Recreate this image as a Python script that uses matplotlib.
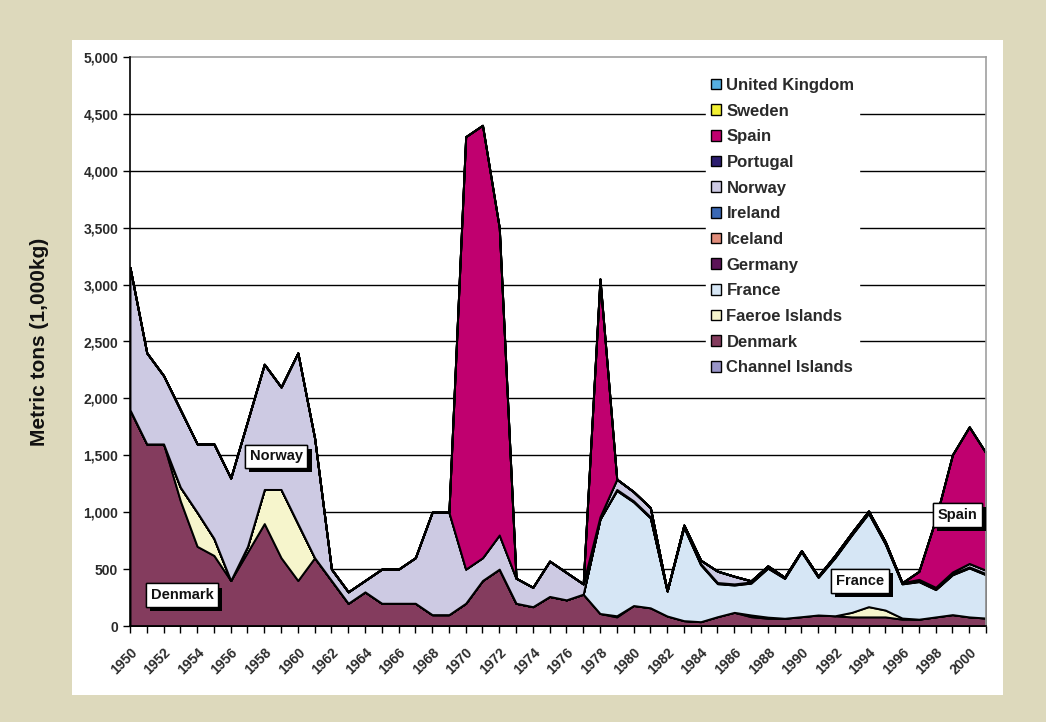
import matplotlib
matplotlib.use('Agg')
import matplotlib.pyplot as plt
import matplotlib.patheffects as pe
from matplotlib.patches import Patch, Rectangle
from matplotlib.ticker import FuncFormatter

plt.rcParams['font.family'] = ['Liberation Sans', 'DejaVu Sans']
plt.rcParams['font.weight'] = 'bold'

# Años del eje x
anios = list(range(1950, 2002))

# Capturas por país (miles de kg), 1950-2001
channel_islands = [0, 0, 0, 0, 0, 0, 0, 0, 0, 0,
                   0, 0, 0, 0, 0, 0, 0, 0, 0, 0,
                   0, 0, 0, 0, 0, 0, 0, 0, 0, 0,
                   0, 0, 0, 0, 0, 0, 0, 0, 0, 0,
                   0, 0, 0, 0, 0, 0, 0, 0, 0, 0,
                   0, 0]
denmark = [1900, 1600, 1600, 1100, 700, 620, 400, 650, 900, 600,
           400, 600, 400, 200, 300, 200, 200, 200, 100, 100,
           200, 400, 500, 200, 170, 260, 230, 280, 110, 80,
           180, 160, 88, 47, 38, 82, 120, 82, 68, 68,
           82, 97, 90, 80, 80, 80, 60, 60, 80, 100,
           80, 70]
faeroe = [0, 0, 0, 120, 300, 150, 0, 50, 300, 600,
          500, 0, 0, 0, 0, 0, 0, 0, 0, 0,
          0, 0, 0, 0, 0, 0, 0, 0, 0, 10,
          0, 0, 0, 0, 0, 0, 0, 15, 10, 0,
          0, 0, 0, 40, 90, 60, 10, 0, 0, 0,
          0, 0]
france = [0, 0, 0, 0, 0, 0, 0, 0, 0, 0,
          0, 0, 0, 0, 0, 0, 0, 0, 0, 0,
          0, 0, 0, 0, 0, 0, 0, 0, 830, 1100,
          910, 790, 220, 820, 500, 290, 240, 280, 430, 350,
          570, 330, 510, 680, 820, 580, 300, 330, 240, 350,
          430, 380]
germany = [0, 0, 0, 0, 0, 0, 0, 0, 0, 0,
           0, 0, 0, 0, 0, 0, 0, 0, 0, 0,
           0, 0, 0, 0, 0, 0, 0, 0, 0, 5,
           5, 5, 0, 5, 5, 5, 5, 5, 5, 5,
           5, 5, 5, 5, 5, 5, 5, 5, 5, 5,
           5, 5]
iceland = [0, 0, 0, 0, 0, 0, 0, 0, 0, 0,
           0, 0, 0, 0, 0, 0, 0, 0, 0, 0,
           0, 0, 0, 0, 0, 0, 0, 0, 0, 0,
           0, 0, 0, 0, 0, 0, 0, 0, 0, 0,
           0, 0, 0, 0, 0, 0, 0, 0, 0, 0,
           0, 0]
ireland = [0, 0, 0, 0, 0, 0, 0, 0, 0, 0,
           0, 0, 0, 0, 0, 0, 0, 0, 0, 0,
           0, 0, 0, 0, 0, 0, 0, 0, 0, 5,
           5, 5, 0, 5, 5, 5, 5, 5, 5, 5,
           5, 5, 5, 5, 5, 5, 5, 5, 5, 5,
           5, 5]
norway = [1250, 800, 600, 680, 600, 830, 900, 1100, 1100, 900,
          1500, 1050, 100, 100, 100, 300, 300, 400, 900, 900,
          300, 200, 300, 220, 170, 310, 240, 90, 20, 90,
          80, 80, 0, 10, 30, 100, 67, 10, 10, 0,
          0, 0, 10, 10, 10, 10, 0, 10, 10, 15,
          30, 30]
portugal = [0, 0, 0, 0, 0, 0, 0, 0, 0, 0,
            0, 0, 0, 0, 0, 0, 0, 0, 0, 0,
            0, 0, 0, 0, 0, 0, 0, 0, 0, 0,
            0, 0, 0, 0, 0, 0, 0, 0, 0, 0,
            0, 0, 0, 0, 0, 0, 0, 0, 0, 0,
            0, 0]
spain = [0, 0, 0, 0, 0, 0, 0, 0, 0, 0,
         0, 0, 0, 0, 0, 0, 0, 0, 0, 0,
         3800, 3800, 2700, 0, 0, 0, 0, 0, 2090, 0,
         0, 0, 0, 0, 0, 0, 0, 0, 0, 0,
         0, 0, 0, 0, 0, 0, 0, 70, 600, 1030,
         1200, 1030]
sweden = [0, 0, 0, 0, 0, 0, 0, 0, 0, 0,
          0, 0, 0, 0, 0, 0, 0, 0, 0, 0,
          0, 0, 0, 0, 0, 0, 0, 0, 0, 0,
          0, 0, 0, 0, 0, 0, 0, 0, 0, 0,
          0, 0, 0, 0, 0, 0, 0, 0, 0, 0,
          0, 0]
united_kingdom = [0, 0, 0, 0, 0, 0, 0, 0, 0, 0,
                  0, 0, 0, 0, 0, 0, 0, 0, 0, 0,
                  0, 0, 0, 0, 0, 0, 0, 0, 0, 0,
                  0, 0, 0, 0, 0, 0, 0, 0, 0, 0,
                  0, 0, 0, 0, 0, 0, 0, 0, 0, 0,
                  0, 0]

# Orden de apilado (de abajo hacia arriba)
paises = ['Channel Islands', 'Denmark', 'Faeroe Islands', 'France', 'Germany',
          'Iceland', 'Ireland', 'Norway', 'Portugal', 'Spain', 'Sweden',
          'United Kingdom']
series = [channel_islands, denmark, faeroe, france, germany, iceland, ireland,
          norway, portugal, spain, sweden, united_kingdom]
colores = ['#9995C8', '#843C5E', '#F6F5CC', '#D6E6F5', '#5C1458', '#E08C7A',
           '#3A68B4', '#CDCAE3', '#2B1C6E', '#C0006F', '#F2F032', '#55B0E2']

fig = plt.figure(figsize=(10.46, 7.22), dpi=100)
fig.patch.set_facecolor('#DDD9BC')

# Panel blanco detrás del gráfico
fig.patches.append(Rectangle((72 / 1046, 1 - 695 / 722), (1003 - 72) / 1046, (695 - 40) / 722,
                             transform=fig.transFigure, facecolor='white', edgecolor='none', zorder=-1))

ax = fig.add_axes([130 / 1046, 1 - 626 / 722, (986 - 130) / 1046, (626 - 57) / 722])
ax.set_zorder(1)
ax.set_facecolor('white')

# Líneas de la cuadrícula
for v in range(500, 5000, 500):
    ax.axhline(v, color='black', linewidth=1.0, zorder=0.5)

ax.stackplot(anios, *series, colors=colores, edgecolor='black', linewidth=1.4, zorder=2)

ax.set_xlim(1950, 2001)
ax.set_ylim(0, 5000)
ax.set_yticks(range(0, 5001, 500))
ax.yaxis.set_major_formatter(FuncFormatter(lambda v, p: f'{int(v):,}'))
ax.set_xticks(anios)
ax.set_xticklabels([str(a) if a % 2 == 0 else '' for a in anios], rotation=45,
                   ha='right', rotation_mode='anchor')
ax.tick_params(axis='both', direction='out', length=5, width=1, colors='black',
               labelcolor='#2a2a2a', labelsize=10)
ax.tick_params(axis='x', pad=9)

for lado in ['top', 'right']:
    ax.spines[lado].set_color('#a0a0a0')
    ax.spines[lado].set_linewidth(1.2)
for lado in ['left', 'bottom']:
    ax.spines[lado].set_color('black')
    ax.spines[lado].set_linewidth(1.2)
    ax.spines[lado].set_zorder(3)

fig.text(40 / 1046, 1 - 342 / 722, 'Metric tons (1,000kg)', rotation=90, ha='center',
         va='center', fontsize=15, fontweight='bold', color='#111111')

# Etiquetas con sombra dentro del gráfico
etiquetas = [('Norway', 1958.7, 1490), ('Denmark', 1953.1, 270),
             ('France', 1993.5, 395), ('Spain', 1999.3, 975)]
for texto, x, y in etiquetas:
    t = ax.text(x, y, texto, ha='center', va='center', fontsize=10.5, fontweight='bold',
                color='#111111', zorder=5,
                bbox=dict(boxstyle='square,pad=0.33', facecolor='white', edgecolor='black', linewidth=1))
    t.get_bbox_patch().set_path_effects([pe.withSimplePatchShadow(offset=(3, -3), shadow_rgbFace='black',
                                                                  alpha=1.0), pe.Normal()])

# Leyenda (orden inverso al apilado)
manijas = [Patch(facecolor=c, edgecolor='black', linewidth=1) for c in colores][::-1]
leg = ax.legend(manijas, paises[::-1], loc='upper left', bbox_to_anchor=(0.673, 0.972),
                frameon=True, fontsize=12, handlelength=0.62, handleheight=0.62,
                handletextpad=0.3, labelspacing=0.64, borderpad=0.3, borderaxespad=0)
leg.get_frame().set_facecolor('white')
leg.get_frame().set_edgecolor('white')
leg.get_frame().set_alpha(1)
leg.set_zorder(6)
for txt in leg.get_texts():
    txt.set_color('#2a2a2a')

fig.savefig('out.png', dpi=100, facecolor=fig.get_facecolor())
